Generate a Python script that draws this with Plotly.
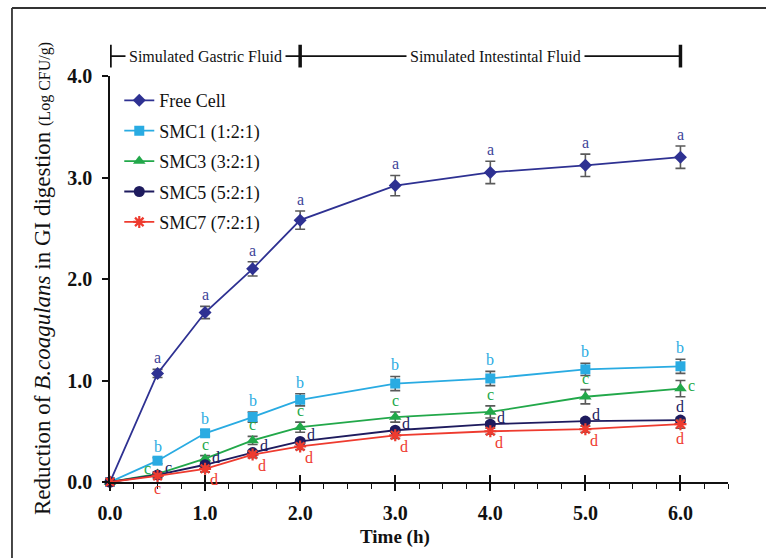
import plotly.graph_objects as go

# Sampling times (h)
time_h = [0.0, 0.5, 1.0, 1.5, 2.0, 3.0, 4.0, 5.0, 6.0]

# Reduction of viable count (Log CFU/g) and standard deviations
free_cell = [0.0, 1.07, 1.67, 2.10, 2.58, 2.92, 3.05, 3.12, 3.20]
free_cell_sd = [0.0, 0.04, 0.06, 0.07, 0.09, 0.10, 0.11, 0.11, 0.11]

smc1 = [0.0, 0.21, 0.48, 0.64, 0.81, 0.97, 1.02, 1.11, 1.14]
smc1_sd = [0.0, 0.03, 0.03, 0.05, 0.06, 0.07, 0.07, 0.06, 0.07]

smc3 = [0.0, 0.08, 0.23, 0.41, 0.54, 0.64, 0.69, 0.84, 0.92]
smc3_sd = [0.0, 0.02, 0.03, 0.04, 0.05, 0.05, 0.06, 0.07, 0.08]

smc5 = [0.0, 0.07, 0.17, 0.29, 0.40, 0.51, 0.57, 0.60, 0.61]
smc5_sd = [0.0, 0.01, 0.02, 0.02, 0.02, 0.02, 0.02, 0.02, 0.02]

smc7 = [0.0, 0.06, 0.13, 0.27, 0.35, 0.46, 0.50, 0.52, 0.57]
smc7_sd = [0.0, 0.02, 0.03, 0.03, 0.03, 0.03, 0.03, 0.03, 0.04]

# Significance letters
free_cell_sig = ["", "a", "a", "a", "a", "a", "a", "a", "a"]
smc1_sig = ["", "b", "b", "b", "b", "b", "b", "b", "b"]
smc3_sig = ["", "c", "c", "c", "c", "c", "c", "c", "c"]
smc5_sig = ["", "c", "d", "d", "d", "d", "d", "d", "d"]
smc7_sig = ["", "c", "d", "d", "d", "d", "d", "d", "d"]

names = ["Free Cell", "SMC1 (1:2:1)", "SMC3 (3:2:1)", "SMC5 (5:2:1)", "SMC7 (7:2:1)"]

# Phase labels along the top
phase_labels = ["Simulated Gastric Fluid", "Simulated Intestintal Fluid"]
phase_bounds = [0.0, 2.0, 6.0]

x_ticks = [0, 1, 2, 3, 4, 5, 6]
x_ticktext = ["0.0", "1.0", "2.0", "3.0", "4.0", "5.0", "6.0"]
y_ticks = [0, 1, 2, 3, 4]
y_ticktext = ["0.0", "1.0", "2.0", "3.0", "4.0"]

SERIF = "Liberation Serif, Times New Roman, serif"

series = [
    dict(y=free_cell, sd=free_cell_sd, sig=free_cell_sig, color="#2E3192", txt="#3F4599",
         symbol="diamond", size=10, lw=0,
         place=["", "above", "above", "above", "above", "above", "above", "above", "above"]),
    dict(y=smc1, sd=smc1_sd, sig=smc1_sig, color="#29ABE2", txt="#29ABE2",
         symbol="square", size=10, lw=0,
         place=["", "above", "above", "above", "above", "above", "above", "above", "above"]),
    dict(y=smc3, sd=smc3_sd, sig=smc3_sig, color="#22A84A", txt="#22A84A",
         symbol="triangle-up", size=11, lw=0,
         place=["", "left", "above", "above", "above", "above", "above", "above", "right"]),
    dict(y=smc5, sd=smc5_sd, sig=smc5_sig, color="#1E1B5E", txt="#1E1B5E",
         symbol="circle", size=11, lw=0,
         place=["", "upright", "upright", "upright", "upright", "upright", "upright", "upright", "above"]),
    dict(y=smc7, sd=smc7_sd, sig=smc7_sig, color="#EE3B2F", txt="#EE3B2F",
         symbol="asterisk-open", size=10, lw=2.2,
         place=["", "below", "belowright", "belowright", "belowright", "belowright", "belowright", "belowright", "below"]),
]

fig = go.Figure()

for name, s in zip(names, series):
    marker = dict(symbol=s["symbol"], size=s["size"], color=s["color"])
    if s["lw"]:
        marker["line"] = dict(color=s["color"], width=s["lw"])
    fig.add_trace(go.Scatter(
        x=time_h, y=s["y"], name=name, mode="lines+markers",
        line=dict(color=s["color"], width=1.8),
        marker=marker,
        error_y=dict(type="data", array=s["sd"], visible=True,
                     color="#5a5a5a", thickness=1.6, width=5),
        cliponaxis=False, legendgroup=name,
    ))

# Helper trace for the cross-over major ticks
fig.add_trace(go.Scatter(x=[0], y=[0], xaxis="x2", mode="markers",
                         marker=dict(opacity=0), showlegend=False, hoverinfo="skip"))

annotations = []
for s in series:
    for t, v, e, lab, p in zip(time_h, s["y"], s["sd"], s["sig"], s["place"]):
        if not lab:
            continue
        a = dict(x=t, y=v, xref="x", yref="y", text=lab, showarrow=False,
                 font=dict(family=SERIF, size=16, color=s["txt"]))
        if p == "above":
            a.update(y=v + e, yanchor="bottom", xanchor="center", yshift=1)
        elif p == "below":
            a.update(y=v - e, yanchor="top", xanchor="center", yshift=0)
        elif p == "right":
            a.update(xanchor="left", yanchor="middle", xshift=6, yshift=3)
        elif p == "upright":
            a.update(xanchor="left", yanchor="middle", xshift=5, yshift=7)
        elif p == "left":
            a.update(xanchor="right", yanchor="middle", xshift=-5, yshift=5)
        elif p == "belowright":
            a.update(xanchor="center", yanchor="middle", xshift=9, yshift=-11)
        annotations.append(a)

# Phase bracket along the top of the plot
bracket_y = 1.049
for x0, x1, lab in zip(phase_bounds[:-1], phase_bounds[1:], phase_labels):
    annotations.append(dict(
        x=(x0 + x1) / 2 if x1 - x0 < 3 else 4.05, y=bracket_y, xref="x", yref="paper",
        text=lab, showarrow=False, bgcolor="white", borderpad=3,
        font=dict(family=SERIF, size=16, color="#111"),
        xanchor="center", yanchor="middle"))

# Axis titles
annotations.append(dict(
    x=3.0, y=-0.135, xref="x", yref="paper", text="<b>Time (h)</b>", showarrow=False,
    font=dict(family=SERIF, size=19, color="#111"), xanchor="center", yanchor="middle"))
annotations.append(dict(
    x=-0.11, y=0.5, xref="paper", yref="paper", textangle=-90, showarrow=False,
    text="Reduction of <i>B.coagulans</i> in GI digestion <span style='font-size:16px'>(Log CFU/g)</span>",
    font=dict(family=SERIF, size=23, color="#111"), xanchor="center", yanchor="middle"))

shapes = [
    # bracket line
    dict(type="line", xref="x", yref="paper", x0=phase_bounds[0], x1=phase_bounds[-1],
         y0=bracket_y, y1=bracket_y, line=dict(color="#111", width=1.6)),
    # outer frame (left and top edges)
    dict(type="line", xref="paper", yref="paper", x0=-0.1586, x1=-0.1586, y0=1.1675, y1=-0.25,
         line=dict(color="#333", width=1.8)),
    dict(type="line", xref="paper", yref="paper", x0=-0.1586, x1=1.1, y0=1.1675, y1=1.1675,
         line=dict(color="#333", width=1.8)),
]
for xb in phase_bounds:
    shapes.append(dict(type="line", xref="x", yref="paper", x0=xb, x1=xb,
                       y0=bracket_y - 0.028, y1=bracket_y + 0.028,
                       line=dict(color="#111", width=3.5)))

fig.update_layout(
    width=766, height=558,
    margin=dict(l=110, r=38, t=76, b=76),
    paper_bgcolor="white", plot_bgcolor="white",
    showlegend=True,
    legend=dict(x=0.015, y=0.985, xanchor="left", yanchor="top",
                font=dict(family=SERIF, size=18, color="#111"),
                tracegroupgap=4, bgcolor="rgba(0,0,0,0)"),
    xaxis=dict(range=[0, 6.5], tickvals=x_ticks, ticktext=x_ticktext,
               showgrid=False, zeroline=False, showline=True, linecolor="#111", linewidth=1.6,
               ticks="outside", ticklen=7, tickwidth=1.5, tickcolor="#111",
               minor=dict(dtick=0.25, tick0=0, ticks="outside", ticklen=5, tickwidth=1.3, tickcolor="#111"),
               tickfont=dict(family=SERIF, size=20, color="#111", weight="bold"),
               ticklabelstandoff=5),
    xaxis2=dict(range=[0, 6.5], overlaying="x", anchor="y", side="bottom",
                tickvals=x_ticks, showticklabels=False, showline=False, showgrid=False,
                zeroline=False, ticks="inside", ticklen=7, tickwidth=1.5, tickcolor="#111"),
    yaxis=dict(range=[0, 4.0], tickvals=y_ticks, ticktext=y_ticktext,
               showgrid=False, zeroline=False, showline=True, linecolor="#111", linewidth=1.6,
               ticks="outside", ticklen=6, tickwidth=1.5, tickcolor="#111",
               tickfont=dict(family=SERIF, size=20, color="#111", weight="bold"),
               ticklabelstandoff=6),
    annotations=annotations,
    shapes=shapes,
)

fig.write_html("out.html")
